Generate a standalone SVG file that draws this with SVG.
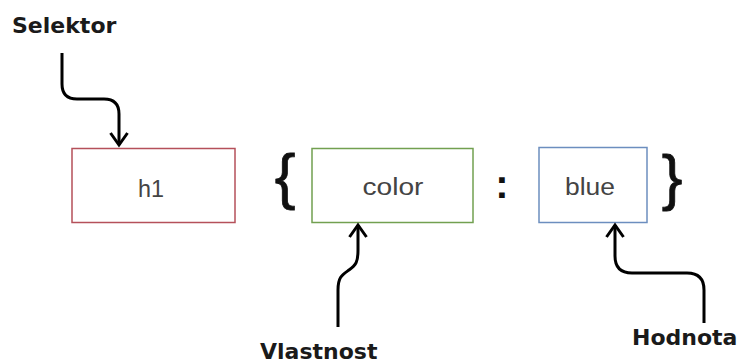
<svg xmlns="http://www.w3.org/2000/svg" width="744" height="363" viewBox="0 0 744 363">
<defs>
<style>
.box{fill:#fff;stroke-width:1.5}
.val{font-family:"Liberation Sans",Arial,sans-serif;font-size:23px;fill:#444;text-anchor:middle}
.lbl{font-family:"DejaVu Sans",Verdana,sans-serif;font-weight:bold;font-size:22px;fill:#1a1a1a}
.sym{font-family:"Liberation Sans",Arial,sans-serif;fill:#111;text-anchor:middle}
.conn{fill:none;stroke:#000;stroke-width:3}
</style>
<marker id="arr" markerUnits="userSpaceOnUse" viewBox="-16 -12 20 24" refX="0" refY="0" markerWidth="20" markerHeight="24" orient="auto" overflow="visible">
<path d="M-12,-8.5 L0,0 L-12,8.5" fill="none" stroke="#000" stroke-width="3"/>
</marker>
</defs>
<rect width="744" height="363" fill="#fff"/>
<g id="node-h1">
<rect class="box" x="72" y="148.5" width="163" height="74" stroke="#b5505a"/>
<text class="val" x="151" y="197" textLength="26" lengthAdjust="spacingAndGlyphs">h1</text>
</g>
<g id="node-color">
<rect class="box" x="312" y="148.5" width="161" height="74" stroke="#72a050"/>
<text class="val" x="393" y="195" textLength="61" lengthAdjust="spacingAndGlyphs">color</text>
</g>
<g id="node-blue">
<rect class="box" x="539" y="147.5" width="108" height="75" stroke="#6c8ebf"/>
<text class="val" x="590" y="195" textLength="50" lengthAdjust="spacingAndGlyphs">blue</text>
</g>
<g id="brace-open"><text class="sym" x="285" y="197" font-size="62" stroke="#111" stroke-width="0.8">{</text></g>
<g id="colon"><text class="sym" x="502" y="198" font-size="40" font-weight="bold">:</text></g>
<g id="brace-close"><text class="sym" x="672" y="198" font-size="62" stroke="#111" stroke-width="0.8">}</text></g>
<g id="label-selektor"><text class="lbl" x="12" y="33">Selektor</text></g>
<g id="label-vlastnost"><text class="lbl" x="260" y="359">Vlastnost</text></g>
<g id="label-hodnota"><text class="lbl" x="632" y="345">Hodnota</text></g>
<g id="connectors">
<path class="conn" d="M62,53 L62,84 Q62,99 77,99 L104,99 Q119,99 119,114 L119,145" marker-end="url(#arr)"/>
<path class="conn" d="M338,327 L338,290 C338,277 342,275 349,270 C356,265 358,262 358,250 L358,225" marker-end="url(#arr)"/>
<path class="conn" d="M704,323 L704,290 Q704,273 687,273 L632,273 Q615,273 615,256 L615,225" marker-end="url(#arr)"/>
</g>
</svg>
